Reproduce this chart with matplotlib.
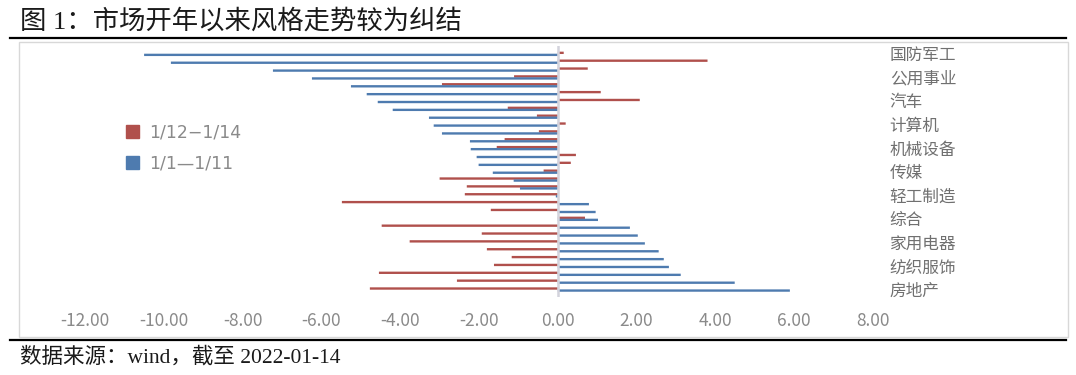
import numpy as np
import matplotlib.pyplot as plt
from matplotlib.patches import Patch, Rectangle
from matplotlib.lines import Line2D

plt.rcParams['font.family'] = ['Noto Sans CJK SC', 'DejaVu Sans']
plt.rcParams['axes.unicode_minus'] = True

# industries, sorted by 1/1-1/11 return (top to bottom)
industries = ['国防军工', '电力设备', '电子', '公用事业', '有色金属', '医药生物',
              '汽车', '基础化工', '美容护理', '计算机', '通信', '环保',
              '机械设备', '农林牧渔', '社会服务', '传媒', '食品饮料', '商贸零售',
              '轻工制造', '非银金融', '石油石化', '综合', '钢铁', '交通运输',
              '家用电器', '建筑材料', '煤炭', '纺织服饰', '银行', '建筑装饰', '房地产']

# 1/12-1/14 return (%)
ret_recent = [0.15, 3.80, 0.76, -1.11, -2.94, 1.09, 2.08, -1.27, -0.53, 0.20,
              -0.48, -1.35, -1.55, 0.46, 0.33, -0.36, -3.00, -2.31, -2.36, -5.48,
              -1.70, 0.69, -4.47, -1.93, -3.76, -1.80, -1.17, -1.62, -4.54, -2.56, -4.77]

# 1/1-1/11 return (%)
ret_early = [-10.50, -9.82, -7.23, -6.24, -5.25, -4.85, -4.57, -4.19, -3.27, -3.15,
             -2.94, -2.23, -2.21, -2.06, -2.01, -1.65, -1.12, -0.96, -0.05, 0.79,
             0.96, 1.02, 1.83, 2.03, 2.21, 2.56, 2.69, 2.82, 3.12, 4.49, 5.89]

legend_labels = ['1/12\u22121/14', '1/1\u20141/11']
xticks = [-12, -10, -8, -6, -4, -2, 0, 2, 4, 6, 8]

red = '#B0504C'
blue = '#4E7BAF'
W, H = 1076, 375

fig = plt.figure(figsize=(W / 100, H / 100), dpi=100)
ax = fig.add_axes([85 / W, 1 - 297 / H, (873 - 85) / W, (297 - 46) / H])

y = np.arange(len(industries))
ax.barh(y - 0.13, ret_recent, height=0.3, color=red, lw=0, snap=False,
        label=legend_labels[0], zorder=2)
ax.barh(y + 0.13, ret_early, height=0.3, color=blue, lw=0, snap=False,
        label=legend_labels[1], zorder=2)
ax.axvline(0, color='#d3d3dc', lw=1.8, zorder=3)

ax.set_xlim(-12, 8)
ax.set_ylim(len(industries) - 0.05, -1.0)
ax.set_xticks(xticks)
ax.set_xticklabels(['%.2f' % v for v in xticks])
ax.tick_params(axis='x', length=0, pad=11, labelsize=12.5, labelcolor='#8a8a8a')

ax.yaxis.tick_right()
shown = y[::3]
ax.set_yticks(shown)
ax.set_yticklabels([industries[i] for i in shown])
ax.tick_params(axis='y', length=0, pad=12, labelsize=12, labelcolor='#707070')
for s in ax.spines.values():
    s.set_visible(False)

handles = [Patch(color=red), Patch(color=blue)]
leg = fig.legend(handles, legend_labels, loc='upper left',
                 bbox_to_anchor=(110 / W, 1 - 108 / H), frameon=False,
                 handlelength=0.75, handleheight=0.75, handletextpad=0.6,
                 labelspacing=0.75, prop={'family': ['DejaVu Sans'], 'size': 12.5})
for t in leg.get_texts():
    t.set_color('#8a8a8a')

# frame and rules
fig.add_artist(Rectangle((19 / W, 1 - 337 / H), (1068 - 19) / W, (337 - 42) / H,
                         transform=fig.transFigure, fill=False, ec='#d8d8d8', lw=1))
fig.add_artist(Line2D([10 / W, 1066 / W], [1 - 38 / H] * 2, color='black', lw=1.6))
fig.add_artist(Line2D([10 / W, 1066 / W], [1 - 340 / H] * 2, color='black', lw=1.6))

fig.text(20 / W, 1 - 21 / H, '图 1：市场开年以来风格走势较为纠结', fontsize=19,
         va='center', ha='left', color='#1a1a1a',
         family=['Liberation Serif', 'Noto Sans CJK SC'])
fig.text(20 / W, 1 - 357 / H, '数据来源：wind，截至 2022-01-14', fontsize=15.5,
         va='center', ha='left', color='#1a1a1a',
         family=['Liberation Serif', 'Noto Sans CJK SC'])

fig.savefig('out.png', dpi=100)
